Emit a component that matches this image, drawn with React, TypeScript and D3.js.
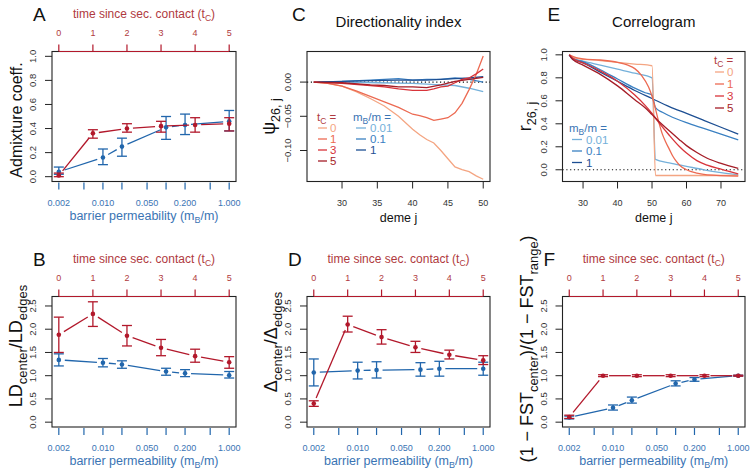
import React from "react";
import * as d3 from "d3";

const FONT = "'Liberation Sans', Arial, Helvetica, sans-serif";
const RED = "#b2182b";
const BLUE = "#2166ac";
const RED_TXT = "#b03a40";
const BLUE_TXT = "#3a74b4";

// ---------- shared axes ----------
const tcValues = [0, 1, 2, 3, 4, 5];
const mbValues = [0.002, 0.01, 0.02, 0.1, 0.2, 1];
const mbTicks = [0.002, 0.005, 0.01, 0.02, 0.05, 0.1, 0.2, 0.5, 1];
const mbTickLabels = [0.002, 0.01, 0.05, 0.2, 1];

// ---------- Panel A: admixture coefficient ----------
const admixTc = [0.01, 0.36, 0.4, 0.42, 0.43, 0.44];
const admixTcLo = [0.0, 0.32, 0.37, 0.37, 0.37, 0.38];
const admixTcHi = [0.03, 0.39, 0.44, 0.46, 0.49, 0.49];
const admixMb = [0.04, 0.16, 0.25, 0.41, 0.43, 0.46];
const admixMbLo = [0.02, 0.1, 0.17, 0.31, 0.35, 0.38];
const admixMbHi = [0.08, 0.23, 0.32, 0.5, 0.52, 0.55];

// ---------- Panel B: LD ratio ----------
const ldTc = [1.88, 2.33, 1.86, 1.6, 1.42, 1.29];
const ldTcLo = [1.5, 2.06, 1.64, 1.43, 1.29, 1.16];
const ldTcHi = [2.26, 2.59, 2.08, 1.78, 1.57, 1.41];
const ldMb = [1.34, 1.28, 1.24, 1.09, 1.05, 1.01];
const ldMbLo = [1.21, 1.19, 1.16, 1.01, 0.98, 0.95];
const ldMbHi = [1.47, 1.37, 1.32, 1.16, 1.13, 1.09];

// ---------- Panel D: Delta ratio ----------
const dTc = [0.4, 2.1, 1.83, 1.61, 1.45, 1.33];
const dTcLo = [0.34, 1.94, 1.68, 1.5, 1.36, 1.24];
const dTcHi = [0.46, 2.28, 1.99, 1.74, 1.55, 1.43];
const dMb = [1.07, 1.11, 1.12, 1.13, 1.15, 1.15];
const dMbLo = [0.78, 0.93, 0.95, 0.99, 0.99, 1.01];
const dMbHi = [1.36, 1.29, 1.3, 1.28, 1.31, 1.29];

// ---------- Panel F: FST ratio ----------
const fTc = [0.11, 1.0, 1.0, 1.0, 1.0, 1.0];
const fTcLo = [0.08, 0.98, 0.98, 0.98, 0.98, 0.99];
const fTcHi = [0.15, 1.02, 1.02, 1.02, 1.02, 1.01];
const fMb = [0.1, 0.31, 0.47, 0.83, 0.92, 1.0];
const fMbLo = [0.07, 0.26, 0.41, 0.78, 0.88, 0.99];
const fMbHi = [0.13, 0.37, 0.54, 0.89, 0.96, 1.01];

// ---------- Panel C: directionality index ----------
const psiT0 = [[26, 0], [28, -0.002], [30, -0.006], [32, -0.014], [34, -0.024], [36, -0.035], [38, -0.05], [40, -0.069], [41, -0.077], [42, -0.084], [43, -0.089], [44, -0.1], [45, -0.112], [46, -0.124], [47, -0.128], [48, -0.131], [49, -0.137], [50, -0.142]];
const psiT1 = [[26, 0], [28, -0.002], [30, -0.006], [32, -0.013], [34, -0.021], [36, -0.029], [38, -0.037], [40, -0.047], [41, -0.049], [42, -0.052], [43, -0.056], [44, -0.054], [45, -0.052], [46, -0.045], [47, -0.031], [48, -0.011], [49, 0.011], [50, 0.038]];
const psiT3 = [[26, 0], [30, -0.002], [34, -0.005], [36, -0.007], [38, -0.01], [40, -0.012], [42, -0.012], [43, -0.01], [44, -0.007], [45, -0.006], [46, -0.001], [47, 0.004], [48, 0.006], [49, 0.012], [50, 0.019]];
const psiT5 = [[26, 0], [30, -0.001], [34, -0.004], [36, -0.005], [38, -0.007], [40, -0.007], [42, -0.008], [44, -0.004], [46, 0.001], [48, 0.004], [50, 0.007]];
const psiM001 = [[26, 0], [30, 0.0], [35, -0.001], [40, -0.002], [44, -0.004], [46, -0.005], [48, -0.009], [50, -0.014]];
const psiM01 = [[26, 0], [30, 0.001], [34, 0.003], [36, 0.004], [38, 0.005], [40, 0.003], [42, 0.004], [44, 0.004], [46, 0.006], [48, 0.004], [50, 0.0]];
const psiM1 = [[26, 0], [30, 0.001], [34, 0.002], [38, 0.003], [42, 0.003], [46, 0.005], [48, 0.006], [50, 0.008]];

// ---------- Panel E: correlogram ----------
const rT0 = [[26, 1.0], [28, 0.97], [35, 0.95], [40, 0.935], [45, 0.92], [50, 0.905], [51, -0.05], [60, -0.05], [75, -0.05]];
const rT1 = [[26, 1.0], [28, 0.975], [30, 0.965], [35, 0.955], [40, 0.935], [43, 0.91], [45, 0.88], [47, 0.82], [49, 0.72], [50, 0.64], [51, 0.53], [52, 0.41], [53, 0.31], [54, 0.24], [55, 0.18], [56, 0.12], [57, 0.075], [58, 0.04], [60, 0.0], [63, -0.03], [66, -0.045], [75, -0.055]];
const rT3 = [[26, 1.0], [27, 0.97], [30, 0.93], [35, 0.86], [40, 0.77], [45, 0.65], [48, 0.56], [50, 0.49], [52, 0.41], [55, 0.3], [58, 0.2], [60, 0.145], [63, 0.08], [66, 0.04], [70, 0.005], [75, -0.035]];
const rT5 = [[26, 1.0], [27, 0.96], [30, 0.91], [35, 0.83], [40, 0.73], [45, 0.61], [48, 0.54], [50, 0.48], [52, 0.42], [55, 0.34], [58, 0.26], [60, 0.21], [63, 0.15], [66, 0.1], [70, 0.055], [75, 0.012]];
const rM001 = [[26, 1.0], [28, 0.96], [30, 0.945], [35, 0.91], [40, 0.875], [45, 0.84], [50, 0.8], [51, 0.09], [55, 0.06], [60, 0.03], [65, 0.0], [70, -0.025], [75, -0.045]];
const rM01 = [[26, 1.0], [27, 0.97], [30, 0.94], [35, 0.87], [40, 0.79], [45, 0.71], [48, 0.67], [50, 0.65], [51, 0.54], [53, 0.5], [55, 0.47], [60, 0.41], [65, 0.36], [70, 0.31], [75, 0.26]];
const rM1 = [[26, 1.0], [27, 0.96], [30, 0.93], [35, 0.85], [40, 0.77], [45, 0.69], [50, 0.62], [55, 0.55], [60, 0.49], [65, 0.43], [70, 0.37], [75, 0.31]];

const tcLegend = ["0", "1", "3", "5"];
const mbLegend = ["0.01", "0.1", "1"];
const tcColors = ["#f4a582", "#ec6a52", "#d8343a", "#a51d27"];
const mbColors = ["#74b0da", "#3a80c2", "#1d4f93"];

type Seg = [string, boolean];
function Rich({ segs, size, subSize, shift = 4 }: { segs: Seg[]; size: number; subSize: number; shift?: number }) {
  let cur = 0;
  return (
    <>
      {segs.map(([t, sub], i) => {
        const target = sub ? shift : 0;
        const dy = target - cur;
        cur = target;
        return (
          <tspan key={i} dy={dy} fontSize={sub ? subSize : size}>
            {t}
          </tspan>
        );
      })}
    </>
  );
}

type Box = { x0: number; x1: number; y0: number; y1: number };

function gapSegments(pts: [number, number][], gap: number) {
  const out: [number, number, number, number][] = [];
  for (let i = 0; i < pts.length - 1; i++) {
    const [ax, ay] = pts[i];
    const [bx, by] = pts[i + 1];
    const L = Math.hypot(bx - ax, by - ay);
    if (L <= 2 * gap) continue;
    const ux = (bx - ax) / L, uy = (by - ay) / L;
    out.push([ax + ux * gap, ay + uy * gap, bx - ux * gap, by - uy * gap]);
  }
  return out;
}

function Series({ xs, ys, lo, hi, color, y }: { xs: number[]; ys: number[]; lo: number[]; hi: number[]; color: string; y: (v: number) => number }) {
  const pts = xs.map((x, i) => [x, y(ys[i])] as [number, number]);
  const segs = gapSegments(pts, 6);
  const cap = 5;
  return (
    <g stroke={color} fill="none" strokeWidth={1.3}>
      {segs.map((s, i) => (
        <line key={"s" + i} x1={s[0]} y1={s[1]} x2={s[2]} y2={s[3]} />
      ))}
      {xs.map((x, i) => (
        <g key={"e" + i}>
          <line x1={x} x2={x} y1={y(lo[i])} y2={y(hi[i])} />
          <line x1={x - cap} x2={x + cap} y1={y(lo[i])} y2={y(lo[i])} />
          <line x1={x - cap} x2={x + cap} y1={y(hi[i])} y2={y(hi[i])} />
        </g>
      ))}
      {xs.map((x, i) => (
        <circle key={"p" + i} cx={x} cy={pts[i][1]} r={2.3} fill={color} stroke="none" />
      ))}
    </g>
  );
}

function YAxis({ box, y, ticks, fmt }: { box: Box; y: d3.ScaleLinear<number, number>; ticks: number[]; fmt: (v: number) => string }) {
  return (
    <g>
      {ticks.map((t) => (
        <g key={t}>
          <line x1={box.x0 - 7} x2={box.x0} y1={y(t)} y2={y(t)} stroke="#222" strokeWidth={1} />
          <text
            transform={`translate(${box.x0 - 16},${y(t)}) rotate(-90)`}
            textAnchor="middle"
            fontSize={9.5}
            fill="#333"
          >
            {fmt(t)}
          </text>
        </g>
      ))}
    </g>
  );
}

function PanelLetter({ x, y, t }: { x: number; y: number; t: string }) {
  return (
    <text x={x} y={y} fontSize={19} fill="#111">
      {t}
    </text>
  );
}

function ErrPanel(props: {
  box: Box;
  yDomain: [number, number];
  yTicks: number[];
  letter: string;
  ylabel: Seg[];
  ylabelSize: number;
  ylabelMid: number;
  red: number[]; redLo: number[]; redHi: number[];
  blue: number[]; blueLo: number[]; blueHi: number[];
}) {
  const { box } = props;
  const xT = d3.scaleLinear().domain([-0.2, 5.2]).range([box.x0, box.x1]);
  const xB = d3.scaleLog().domain([0.002, 1]).range([xT(0), xT(5)]);
  const y = d3.scaleLinear().domain(props.yDomain).range([box.y1, box.y0]);
  const fmtY = d3.format(".1f");
  const fmtB = d3.format(".3f");
  const cx = (box.x0 + box.x1) / 2;
  return (
    <g fontFamily={FONT}>
      <YAxis box={box} y={y} ticks={props.yTicks} fmt={fmtY} />
      {/* bottom blue axis */}
      {mbTicks.map((t) => (
        <line key={t} x1={xB(t)} x2={xB(t)} y1={box.y1 + 1} y2={box.y1 + 8} stroke={BLUE} strokeWidth={1.2} />
      ))}
      {mbTickLabels.map((t) => (
        <text key={t} x={xB(t)} y={box.y1 + 24} textAnchor="middle" fontSize={9} fill={BLUE_TXT}>
          {fmtB(t)}
        </text>
      ))}
      <text x={cx} y={box.y1 + 38} textAnchor="middle" fill={BLUE_TXT}>
        <Rich segs={[["barrier permeability (m", false], ["B", true], ["/m)", false]]} size={12.5} subSize={9} shift={3} />
      </text>
      {/* top red axis */}
      {tcValues.map((t) => (
        <g key={t}>
          <line x1={xT(t)} x2={xT(t)} y1={box.y0} y2={box.y0 - 7} stroke={RED} strokeWidth={1.2} />
          <text x={xT(t)} y={box.y0 - 16} textAnchor="middle" fontSize={9} fill={RED_TXT}>
            {t}
          </text>
        </g>
      ))}
      <text x={cx} y={box.y0 - 34} textAnchor="middle" fill={RED_TXT}>
        <Rich segs={[["time since sec. contact (t", false], ["C", true], [")", false]]} size={12} subSize={8.5} shift={3} />
      </text>
      <rect x={box.x0} y={box.y0} width={box.x1 - box.x0} height={box.y1 - box.y0} fill="none" stroke="#222" strokeWidth={1.1} />
      <line x1={xT(0)} x2={xT(5)} y1={box.y0} y2={box.y0} stroke={RED} strokeWidth={1.2} />
      <Series xs={mbValues.map((v) => xB(v))} ys={props.blue} lo={props.blueLo} hi={props.blueHi} color={BLUE} y={y} />
      <Series xs={tcValues.map((v) => xT(v))} ys={props.red} lo={props.redLo} hi={props.redHi} color={RED} y={y} />
      <text transform={`translate(${box.x0 - 30},${props.ylabelMid}) rotate(-90)`} textAnchor="middle" fill="#111">
        <Rich segs={props.ylabel} size={props.ylabelSize} subSize={props.ylabelSize * 0.72} shift={5} />
      </text>
      <PanelLetter x={box.x0 - 19} y={box.y0 - 31} t={props.letter} />
    </g>
  );
}

function LinePanel(props: {
  box: Box;
  xDomain: [number, number];
  xTicks: number[];
  yDomain: [number, number];
  yTicks: number[];
  yFmt: (v: number) => string;
  letter: string;
  title: string;
  ylabel: Seg[];
  redSeries: number[][][];
  blueSeries: number[][][];
  smooth: boolean;
  legend: { tcX: number; tcY: number; mbX: number; mbY: number; tcStep: number; mbStep: number };
}) {
  const { box, legend } = props;
  const x = d3.scaleLinear().domain(props.xDomain).range([box.x0, box.x1]);
  const y = d3.scaleLinear().domain(props.yDomain).range([box.y1, box.y0]);
  const line = d3
    .line<number[]>()
    .x((d) => x(d[0]))
    .y((d) => y(d[1]))
    .curve(props.smooth ? d3.curveMonotoneX : d3.curveLinear);
  const cx = (box.x0 + box.x1) / 2;
  const lf = 11.5;
  return (
    <g fontFamily={FONT}>
      <YAxis box={box} y={y} ticks={props.yTicks} fmt={props.yFmt} />
      {props.xTicks.map((t) => (
        <g key={t}>
          <line x1={x(t)} x2={x(t)} y1={box.y1} y2={box.y1 + 7} stroke="#222" strokeWidth={1} />
          <text x={x(t)} y={box.y1 + 24} textAnchor="middle" fontSize={9} fill="#333">
            {t}
          </text>
        </g>
      ))}
      <text x={cx} y={box.y1 + 40} textAnchor="middle" fontSize={12.5} fill="#111">
        deme j
      </text>
      <text x={cx} y={box.y0 - 25} textAnchor="middle" fontSize={15} fill="#111">
        {props.title}
      </text>
      <clipPath id={"clip" + props.letter}>
        <rect x={box.x0} y={box.y0} width={box.x1 - box.x0} height={box.y1 - box.y0} />
      </clipPath>
      <line x1={box.x0} x2={box.x1} y1={y(0)} y2={y(0)} stroke="#111" strokeDasharray="1.2,2.6" strokeWidth={1.1} />
      <g clipPath={`url(#clip${props.letter})`} fill="none" strokeWidth={1.3}>
        {props.blueSeries.map((s, i) => (
          <path key={"b" + i} d={line(s) || ""} stroke={mbColors[i]} />
        ))}
        {props.redSeries.map((s, i) => (
          <path key={"r" + i} d={line(s) || ""} stroke={tcColors[i]} />
        ))}
      </g>
      <rect x={box.x0} y={box.y0} width={box.x1 - box.x0} height={box.y1 - box.y0} fill="none" stroke="#222" strokeWidth={1.1} />
      {/* legends */}
      <text x={legend.tcX} y={legend.tcY} fill={RED_TXT}>
        <Rich segs={[["t", false], ["C", true], [" =", false]]} size={lf} subSize={8.5} shift={3} />
      </text>
      {tcLegend.map((l, i) => (
        <g key={l}>
          <line x1={legend.tcX + 1} x2={legend.tcX + 10} y1={legend.tcY + (i + 1) * legend.tcStep - 4} y2={legend.tcY + (i + 1) * legend.tcStep - 4} stroke={tcColors[i]} strokeWidth={1.3} />
          <text x={legend.tcX + 13} y={legend.tcY + (i + 1) * legend.tcStep} fontSize={lf} fill={tcColors[i]}>
            {l}
          </text>
        </g>
      ))}
      <text x={legend.mbX} y={legend.mbY} fill={BLUE_TXT}>
        <Rich segs={[["m", false], ["B", true], ["/m =", false]]} size={lf} subSize={8.5} shift={3} />
      </text>
      {mbLegend.map((l, i) => (
        <g key={l}>
          <line x1={legend.mbX + 3} x2={legend.mbX + 13} y1={legend.mbY + (i + 1) * legend.mbStep - 4} y2={legend.mbY + (i + 1) * legend.mbStep - 4} stroke={mbColors[i]} strokeWidth={1.3} />
          <text x={legend.mbX + 17} y={legend.mbY + (i + 1) * legend.mbStep} fontSize={lf} fill={mbColors[i]}>
            {l}
          </text>
        </g>
      ))}
      <text transform={`translate(${box.x0 - 32},${(box.y0 + box.y1) / 2}) rotate(-90)`} textAnchor="middle" fill="#111">
        <Rich segs={props.ylabel} size={18} subSize={12.5} shift={5} />
      </text>
      <PanelLetter x={box.x0 - 15} y={box.y0 - 31} t={props.letter} />
    </g>
  );
}

export default function App() {
  const col1 = { x0: 52, x1: 236 };
  const col2 = { x0: 307, x1: 490 };
  const col3 = { x0: 562.5, x1: 745 };
  const row1 = { y0: 51.5, y1: 181.5 };
  const row2 = { y0: 296.5, y1: 427 };
  const tallDomain: [number, number] = [-0.104, 2.704];
  const tallTicks = [0, 0.5, 1, 1.5, 2, 2.5];
  return (
    <svg width={750} height={470} style={{ position: "absolute", left: 0, top: 0, background: "#fff" }}>
      <rect width={750} height={470} fill="#fff" />
      <ErrPanel
        box={{ ...col1, ...row1 }}
        yDomain={[-0.04, 1.04]}
        yTicks={[0, 0.2, 0.4, 0.6, 0.8, 1.0]}
        letter="A"
        ylabel={[["Admixture coeff.", false]]}
        ylabelSize={16}
        ylabelMid={120}
        red={admixTc} redLo={admixTcLo} redHi={admixTcHi}
        blue={admixMb} blueLo={admixMbLo} blueHi={admixMbHi}
      />
      <ErrPanel
        box={{ ...col1, ...row2 }}
        yDomain={tallDomain}
        yTicks={tallTicks}
        letter="B"
        ylabel={[["LD", false], ["center", true], ["/LD", false], ["edges", true]]}
        ylabelSize={18}
        ylabelMid={346}
        red={ldTc} redLo={ldTcLo} redHi={ldTcHi}
        blue={ldMb} blueLo={ldMbLo} blueHi={ldMbHi}
      />
      <ErrPanel
        box={{ ...col2, ...row2 }}
        yDomain={tallDomain}
        yTicks={tallTicks}
        letter="D"
        ylabel={[["Δ", false], ["center", true], ["/Δ", false], ["edges", true]]}
        ylabelSize={18}
        ylabelMid={342}
        red={dTc} redLo={dTcLo} redHi={dTcHi}
        blue={dMb} blueLo={dMbLo} blueHi={dMbHi}
      />
      <ErrPanel
        box={{ ...col3, ...row2 }}
        yDomain={tallDomain}
        yTicks={tallTicks}
        letter="F"
        ylabel={[["(1 − FST", false], ["center", true], [")/(1 − FST", false], ["range", true], [")", false]]}
        ylabelSize={18}
        ylabelMid={349}
        red={fTc} redLo={fTcLo} redHi={fTcHi}
        blue={fMb} blueLo={fMbLo} blueHi={fMbHi}
      />
      <LinePanel
        box={{ ...col2, ...row1 }}
        xDomain={[25.04, 50.96]}
        xTicks={[30, 35, 40, 45, 50]}
        yDomain={[-0.1453, 0.0447]}
        yTicks={[-0.1, -0.05, 0]}
        yFmt={d3.format(".2f")}
        letter="C"
        title="Directionality index"
        ylabel={[["ψ", false], ["26, j", true]]}
        redSeries={[psiT0, psiT1, psiT3, psiT5]}
        blueSeries={[psiM001, psiM01, psiM1]}
        smooth={false}
        legend={{ tcX: 317, tcY: 121, mbX: 353, mbY: 121, tcStep: 11, mbStep: 11 }}
      />
      <LinePanel
        box={{ ...col3, ...row1 }}
        xDomain={[24.04, 76.96]}
        xTicks={[30, 40, 50, 60, 70]}
        yDomain={[-0.102, 1.029]}
        yTicks={[0, 0.2, 0.4, 0.6, 0.8, 1.0]}
        yFmt={d3.format(".1f")}
        letter="E"
        title="Correlogram"
        ylabel={[["r", false], ["26, j", true]]}
        redSeries={[rT0, rT1, rT3, rT5]}
        blueSeries={[rM001, rM01, rM1]}
        smooth={true}
        legend={{ tcX: 714, tcY: 64, mbX: 569, mbY: 132, tcStep: 12, mbStep: 11.5 }}
      />
    </svg>
  );
}
